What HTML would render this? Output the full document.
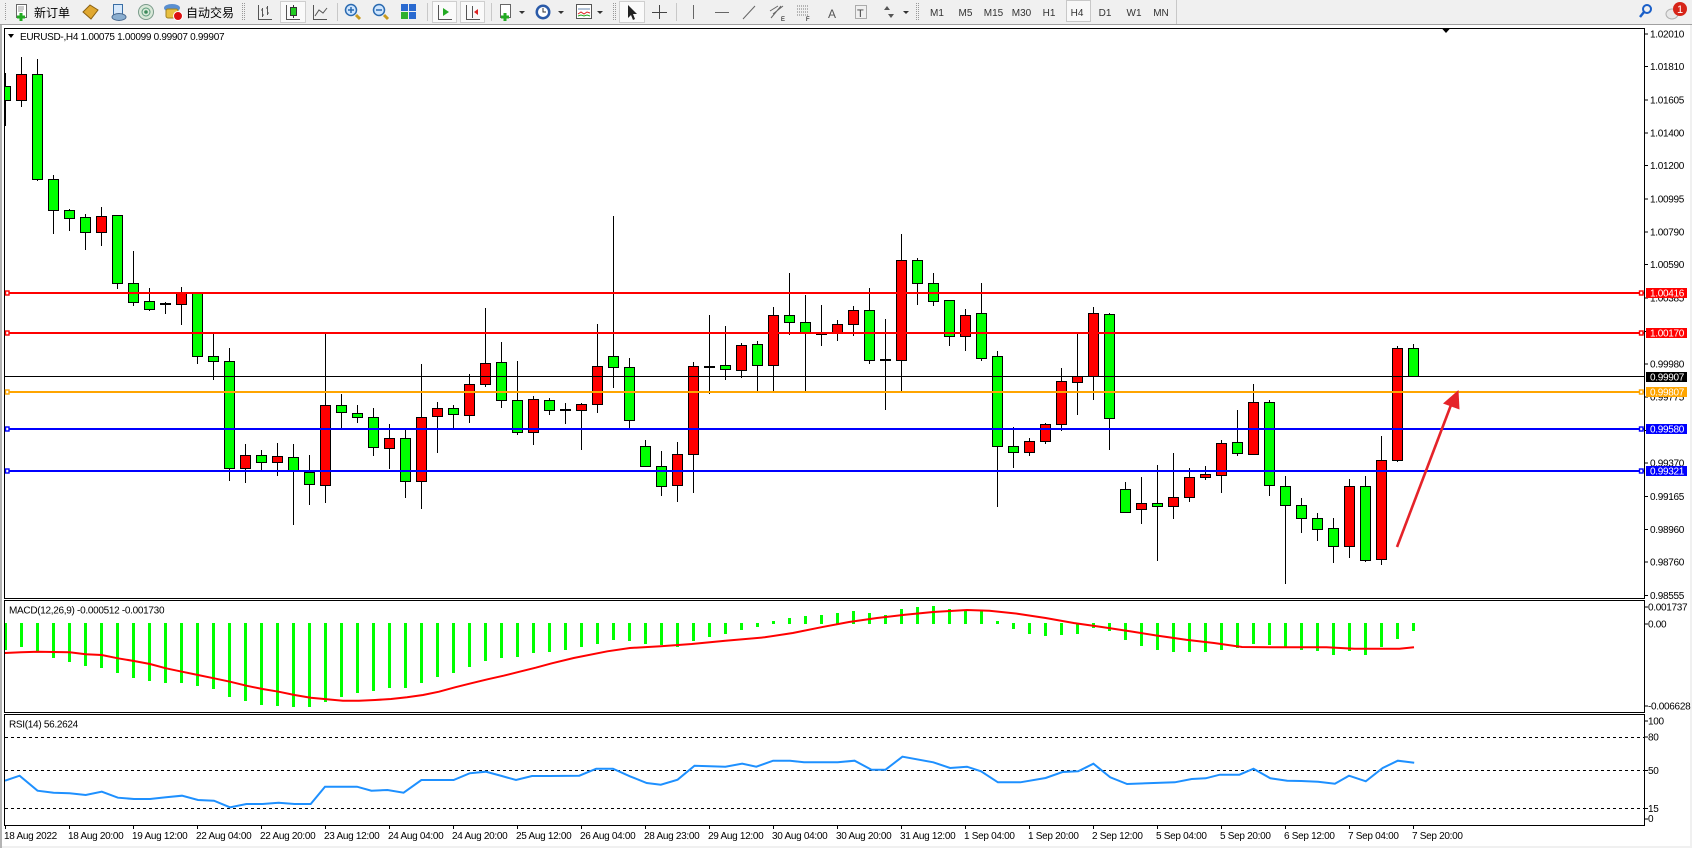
<!DOCTYPE html>
<html><head><meta charset="utf-8">
<style>
html,body{margin:0;padding:0;background:#f0f0f0;}
body{width:1692px;height:848px;overflow:hidden;}
svg{display:block;}
text{font-family:"Liberation Sans","Noto Sans CJK SC",sans-serif;font-size:10px;letter-spacing:-0.3px;fill:#000;}
.cjk{font-size:12px;letter-spacing:0;}
.tf{font-size:10px;fill:#333;letter-spacing:0;}
.wl{fill:#fff;}
.g{fill:#00ff00;stroke:#000;stroke-width:1;}
.r{fill:#ff0000;stroke:#000;stroke-width:1;}
</style></head>
<body>
<svg width="1692" height="848" viewBox="0 0 1692 848" xmlns="http://www.w3.org/2000/svg">
<defs>
<clipPath id="cm"><rect x="5" y="29" width="1639" height="569"/></clipPath>
<clipPath id="cd"><rect x="5" y="601" width="1639" height="111"/></clipPath>
<clipPath id="cr"><rect x="5" y="715" width="1639" height="110"/></clipPath>
</defs>
<!-- background -->
<rect x="0" y="0" width="1692" height="848" fill="#f0f0f0"/>
<line x1="0" y1="24.5" x2="1692" y2="24.5" stroke="#a0a0a0"/>
<rect x="2" y="25" width="1688" height="821" fill="#fff"/>
<rect x="0" y="25" width="2" height="823" fill="#b4b4b4"/>

<!-- ===== TOOLBAR ===== -->
<g>
<line x1="5.5" y1="3" x2="5.5" y2="21" stroke="#999" stroke-dasharray="1,1"/>
<rect x="16.5" y="4.5" width="10" height="13" fill="#fff" stroke="#666"/>
<path d="M18 7h6M18 9h6M18 11h5" stroke="#999"/>
<path d="M21 13v8M17 17h8" stroke="#22aa22" stroke-width="3"/>
<text x="34" y="17" class="cjk">新订单</text>
<polygon points="83,12 90,5 98,10 91,19" fill="#e0a830" stroke="#8a6010"/>
<rect x="113.5" y="4.5" width="9" height="11" fill="#d6e8fb" stroke="#3a6ea5"/>
<ellipse cx="119" cy="17" rx="7" ry="3.5" fill="#8aaed0" stroke="#4a6a90"/>
<circle cx="146" cy="12" r="7.5" fill="#d8e8d8" stroke="#7a9a8a"/>
<circle cx="146" cy="12" r="4" fill="none" stroke="#5a9a7a"/>
<circle cx="146" cy="12" r="1.8" fill="#3a8a5a"/>
<ellipse cx="172" cy="8" rx="8" ry="4" fill="#5a8fd0"/>
<rect x="166" y="9" width="12" height="9" rx="2" fill="#e8c040" stroke="#a08020"/>
<circle cx="178" cy="16" r="4.5" fill="#dd1010" stroke="#fff"/>
<text x="186" y="17" class="cjk">自动交易</text>
<line x1="242.5" y1="3" x2="242.5" y2="21" stroke="#999" stroke-dasharray="1,1"/>
<line x1="244.5" y1="3" x2="244.5" y2="21" stroke="#999" stroke-dasharray="1,1"/>
<path d="M258.5 5V19.5H272M262.5 8v9M261 10h1.5M262.5 15H264M267.5 6v9M266 8h1.5M267.5 13H269" stroke="#555" fill="none"/>
<rect x="280.5" y="1.5" width="25" height="21" fill="#fafafa" stroke="#cfcfcf"/>
<path d="M286.5 5V19.5H300" stroke="#555" fill="none"/>
<line x1="293.5" y1="5" x2="293.5" y2="18" stroke="#333"/>
<rect x="290.5" y="7.5" width="6" height="8" fill="#22cc22" stroke="#333"/>
<path d="M313.5 5V19.5H327M315 16l4-6 4 3 4-5" stroke="#555" fill="none"/>
<line x1="337.5" y1="3" x2="337.5" y2="21" stroke="#c8c8c8"/>
<line x1="356" y1="15" x2="360" y2="19" stroke="#c89a20" stroke-width="3"/>
<circle cx="351" cy="10" r="5.5" fill="#cfe6ff" stroke="#2a6ab0" stroke-width="1.5"/>
<path d="M348 10h6M351 7v6" stroke="#2a6ab0" stroke-width="1.5"/>
<line x1="384" y1="15" x2="388" y2="19" stroke="#c89a20" stroke-width="3"/>
<circle cx="379" cy="10" r="5.5" fill="#cfe6ff" stroke="#2a6ab0" stroke-width="1.5"/>
<path d="M376 10h6" stroke="#2a6ab0" stroke-width="1.5"/>
<rect x="401" y="4" width="7" height="7" fill="#2a6ad0"/><rect x="409" y="4" width="7" height="7" fill="#2a6ad0"/>
<rect x="401" y="12" width="7" height="7" fill="#30b030"/><rect x="409" y="12" width="7" height="7" fill="#2a6ad0"/>
<line x1="427.5" y1="3" x2="427.5" y2="21" stroke="#c8c8c8"/>
<rect x="432.5" y="1.5" width="24" height="21" fill="#fafafa" stroke="#cfcfcf"/>
<path d="M438.5 5V19.5H452" stroke="#555" fill="none"/>
<polygon points="443,8 449,12 443,16" fill="#22aa22"/>
<rect x="460.5" y="1.5" width="24" height="21" fill="#fafafa" stroke="#cfcfcf"/>
<path d="M466.5 5V19.5H480M472.5 6v12" stroke="#555" fill="none"/>
<polygon points="478,9 474,12 478,15" fill="#dd2222"/>
<line x1="491.5" y1="3" x2="491.5" y2="21" stroke="#c8c8c8"/>
<rect x="500.5" y="4.5" width="10" height="13" fill="#fff" stroke="#666"/>
<path d="M505 13v8M501 17h8" stroke="#22aa22" stroke-width="3"/>
<polygon points="519,11 525,11 522,14" fill="#333"/>
<circle cx="543" cy="12" r="7.5" fill="#2a5aa8"/>
<circle cx="543" cy="12" r="5" fill="#fff"/>
<path d="M543 8v4h3" stroke="#333" fill="none"/>
<polygon points="558,11 564,11 561,14" fill="#333"/>
<rect x="576.5" y="4.5" width="15" height="14" fill="#fff" stroke="#555"/>
<path d="M578 9h12" stroke="#6a8ab0"/>
<path d="M578 14l3-2 3 2 3-2 3 1" stroke="#dd2222" fill="none"/>
<path d="M578 16l3-1 3 1 3-1 3 1" stroke="#22aa22" fill="none"/>
<polygon points="597,11 603,11 600,14" fill="#333"/>
<line x1="613.5" y1="3" x2="613.5" y2="21" stroke="#999" stroke-dasharray="1,1"/>
<line x1="615.5" y1="3" x2="615.5" y2="21" stroke="#999" stroke-dasharray="1,1"/>
<rect x="619.5" y="1.5" width="25" height="21" fill="#fafafa" stroke="#cfcfcf"/>
<polygon points="628,5 628,18 631,15 633,20 635,19 633,14 637,14" fill="#222"/>
<path d="M659.5 5v14M652 12.5h15" stroke="#444"/>
<line x1="676.5" y1="3" x2="676.5" y2="21" stroke="#c8c8c8"/>
<line x1="693.5" y1="5" x2="693.5" y2="19" stroke="#666"/>
<line x1="715" y1="12.5" x2="729" y2="12.5" stroke="#666"/>
<line x1="743" y1="19" x2="755" y2="6" stroke="#666"/>
<path d="M771 18l10-12M773 14l10-8M770 11l8-5" stroke="#666" fill="none"/>
<text x="781" y="21" style="font-size:6px;letter-spacing:0">E</text>
<path d="M797 6h12M797 9h12M797 12h12M797 15h12" stroke="#777" stroke-dasharray="1,1"/>
<text x="806" y="21" style="font-size:6px;letter-spacing:0">F</text>
<text x="828" y="18" style="font-size:12px;fill:#555;letter-spacing:0">A</text>
<rect x="855.5" y="5.5" width="11" height="13" fill="none" stroke="#666" stroke-dasharray="1,1"/>
<text x="857" y="17" style="font-size:11px;fill:#444;letter-spacing:0">T</text>
<polygon points="884,10 887,6 890,10" fill="#555"/><polygon points="888,14 891,18 894,14" fill="#555"/>
<polygon points="903,11 909,11 906,14" fill="#333"/>
<line x1="916.5" y1="3" x2="916.5" y2="21" stroke="#999" stroke-dasharray="1,1"/>
<line x1="918.5" y1="3" x2="918.5" y2="21" stroke="#999" stroke-dasharray="1,1"/>
<rect x="1066.5" y="0.5" width="24" height="21" fill="#f8f8f8" stroke="#c8c8c8"/>
<text class="tf" x="937" y="16" text-anchor="middle">M1</text>
<text class="tf" x="965.5" y="16" text-anchor="middle">M5</text>
<text class="tf" x="993.5" y="16" text-anchor="middle">M15</text>
<text class="tf" x="1021.5" y="16" text-anchor="middle">M30</text>
<text class="tf" x="1049" y="16" text-anchor="middle">H1</text>
<text class="tf" x="1077" y="16" text-anchor="middle">H4</text>
<text class="tf" x="1105" y="16" text-anchor="middle">D1</text>
<text class="tf" x="1134" y="16" text-anchor="middle">W1</text>
<text class="tf" x="1161" y="16" text-anchor="middle">MN</text>
<line x1="1176.5" y1="0" x2="1176.5" y2="24" stroke="#c8c8c8"/>
<circle cx="1647" cy="9" r="4" fill="none" stroke="#1a5fc8" stroke-width="2"/>
<line x1="1644" y1="12" x2="1640" y2="17" stroke="#1a5fc8" stroke-width="2.5"/>
<ellipse cx="1672" cy="14" rx="6" ry="5" fill="#e8e8e8" stroke="#b0b0b0"/>
<circle cx="1680" cy="9" r="7" fill="#d62418"/>
<text x="1680" y="13" text-anchor="middle" style="font-size:11px;fill:#fff;letter-spacing:0">1</text>
</g>

<!-- ===== WINDOW FRAMES ===== -->
<g stroke="#000" stroke-width="1" fill="none">
<path d="M4.5 28.5H1644.5V598.5H4.5Z"/>
<path d="M4.5 600.5H1644.5V712.5H4.5Z"/>
<path d="M4.5 714.5H1644.5V825.5H4.5Z"/>
</g>
<polygon points="1441.5,28 1450.5,28 1446,33" fill="#000"/>

<!-- price axis ticks & labels -->
<g stroke="#000">
<path d="M1645 34h3M1645 66.5h3M1645 100h3M1645 133h3M1645 165.5h3M1645 199h3M1645 232h3M1645 264.5h3M1645 298h3M1645 331.5h3M1645 364h3M1645 397h3M1645 430.5h3M1645 463h3M1645 496.5h3M1645 529.5h3M1645 562h3M1645 595.5h3"/>
<path d="M1645 607h3M1645 624h3M1645 706h3M1645 721h3M1645 737h3M1645 770.5h3M1645 808.5h3M1645 819h3"/>
</g>
<g>
<text x="1650" y="37.5">1.02010</text>
<text x="1650" y="70">1.01810</text>
<text x="1650" y="103.5">1.01605</text>
<text x="1650" y="136.5">1.01400</text>
<text x="1650" y="169">1.01200</text>
<text x="1650" y="202.5">1.00995</text>
<text x="1650" y="235.5">1.00790</text>
<text x="1650" y="268">1.00590</text>
<text x="1650" y="301.5">1.00385</text>
<text x="1650" y="335">1.00180</text>
<text x="1650" y="367.5">0.99980</text>
<text x="1650" y="400.5">0.99775</text>
<text x="1650" y="434">0.99570</text>
<text x="1650" y="466.5">0.99370</text>
<text x="1650" y="500">0.99165</text>
<text x="1650" y="533">0.98960</text>
<text x="1650" y="565.5">0.98760</text>
<text x="1650" y="599">0.98555</text>
<text x="1648" y="610.5">0.001737</text>
<text x="1648" y="627.5">0.00</text>
<text x="1648" y="709.5">-0.006628</text>
<text x="1648" y="724.5">100</text>
<text x="1648" y="740.5">80</text>
<text x="1648" y="774">50</text>
<text x="1648" y="812">15</text>
<text x="1648" y="822">0</text>
</g>

<!-- title -->
<polygon points="8,34 14,34 11,38" fill="#000"/>
<text x="20" y="40">EURUSD-,H4  1.00075 1.00099 0.99907 0.99907</text>

<!-- ===== CANDLES ===== -->
<g clip-path="url(#cm)">
<path stroke="#000" stroke-width="1" fill="none" d="M5.5 73V126M21.5 57V107M37.5 59V181M53.5 175V234M69.5 209V231M85.5 214V250M101.5 207V246M117.5 215V289M133.5 251V306M149.5 288V311M165.5 302V314M181.5 287V325M197.5 293V364M213.5 333V380M229.5 348V481M245.5 444V483M261.5 450V470M277.5 443V476M293.5 444V525M309.5 455V505M325.5 334V503M341.5 394V428M357.5 405V423M373.5 408V456M389.5 424V469M405.5 428V498M421.5 364V509M437.5 402V453M453.5 405V428M469.5 374V423M485.5 308V387M501.5 342V408M517.5 361V435M533.5 396V445M549.5 398V415M565.5 403V424M581.5 403V450M597.5 324V413M613.5 216V388M629.5 358V428M645.5 440V467M661.5 451V496M677.5 442V502M693.5 362V493M709.5 315V394M725.5 326V380M741.5 343V378M757.5 341V391M773.5 307V391M789.5 273V335M805.5 295V391M821.5 305V346M837.5 320V341M853.5 306V336M869.5 288V364M885.5 319V410M901.5 234V391M917.5 258V305M933.5 273V306M949.5 300V346M965.5 309V351M981.5 283V361M997.5 351V507M1013.5 427V468M1029.5 438V456M1045.5 423V444M1061.5 368V431M1077.5 333V415M1093.5 307V400M1109.5 313V450M1125.5 482V513M1141.5 477V524M1157.5 465V561M1173.5 453V519M1189.5 468V502M1205.5 466V480M1221.5 440V493M1237.5 410V456M1253.5 384V454M1269.5 400V496M1285.5 476V584M1301.5 498V533M1317.5 513V541M1333.5 518V563M1349.5 479V558M1365.5 476V562M1381.5 436V565M1397.5 346V462M1413.5 344V376"/>
<path stroke="#000" stroke-width="2" fill="none" d="M160 304H171M560 410H571M704 367H715M816 334H827M880 360H891"/>
<g>
<rect class="g" x="0.5" y="86.5" width="10" height="14"/>
<rect class="g" x="32.5" y="74.5" width="10" height="105"/>
<rect class="g" x="48.5" y="179.5" width="10" height="31"/>
<rect class="g" x="64.5" y="210.5" width="10" height="8"/>
<rect class="g" x="80.5" y="217.5" width="10" height="15"/>
<rect class="g" x="112.5" y="215.5" width="10" height="68"/>
<rect class="g" x="128.5" y="283.5" width="10" height="19"/>
<rect class="g" x="144.5" y="301.5" width="10" height="8"/>
<rect class="g" x="192.5" y="293.5" width="10" height="63"/>
<rect class="g" x="208.5" y="356.5" width="10" height="5"/>
<rect class="g" x="224.5" y="361.5" width="10" height="107"/>
<rect class="g" x="256.5" y="455.5" width="10" height="7"/>
<rect class="g" x="288.5" y="457.5" width="10" height="13"/>
<rect class="g" x="304.5" y="472.5" width="10" height="12"/>
<rect class="g" x="336.5" y="405.5" width="10" height="7"/>
<rect class="g" x="352.5" y="413.5" width="10" height="4"/>
<rect class="g" x="368.5" y="417.5" width="10" height="30"/>
<rect class="g" x="400.5" y="438.5" width="10" height="43"/>
<rect class="g" x="448.5" y="408.5" width="10" height="6"/>
<rect class="g" x="496.5" y="362.5" width="10" height="38"/>
<rect class="g" x="512.5" y="400.5" width="10" height="32"/>
<rect class="g" x="544.5" y="400.5" width="10" height="10"/>
<rect class="g" x="608.5" y="356.5" width="10" height="11"/>
<rect class="g" x="624.5" y="367.5" width="10" height="53"/>
<rect class="g" x="640.5" y="446.5" width="10" height="20"/>
<rect class="g" x="656.5" y="466.5" width="10" height="20"/>
<rect class="g" x="720.5" y="365.5" width="10" height="4"/>
<rect class="g" x="752.5" y="344.5" width="10" height="21"/>
<rect class="g" x="784.5" y="315.5" width="10" height="7"/>
<rect class="g" x="800.5" y="322.5" width="10" height="10"/>
<rect class="g" x="864.5" y="310.5" width="10" height="50"/>
<rect class="g" x="912.5" y="260.5" width="10" height="23"/>
<rect class="g" x="928.5" y="283.5" width="10" height="18"/>
<rect class="g" x="944.5" y="300.5" width="10" height="36"/>
<rect class="g" x="976.5" y="313.5" width="10" height="45"/>
<rect class="g" x="992.5" y="356.5" width="10" height="90"/>
<rect class="g" x="1008.5" y="446.5" width="10" height="6"/>
<rect class="g" x="1104.5" y="314.5" width="10" height="104"/>
<rect class="g" x="1120.5" y="489.5" width="10" height="23"/>
<rect class="g" x="1152.5" y="503.5" width="10" height="3"/>
<rect class="g" x="1232.5" y="442.5" width="10" height="11"/>
<rect class="g" x="1264.5" y="402.5" width="10" height="83"/>
<rect class="g" x="1280.5" y="486.5" width="10" height="19"/>
<rect class="g" x="1296.5" y="505.5" width="10" height="13"/>
<rect class="g" x="1312.5" y="518.5" width="10" height="11"/>
<rect class="g" x="1328.5" y="528.5" width="10" height="18"/>
<rect class="g" x="1360.5" y="486.5" width="10" height="74"/>
<rect class="g" x="1408.5" y="348.5" width="10" height="28"/>
<rect class="r" x="16.5" y="74.5" width="10" height="26"/>
<rect class="r" x="96.5" y="216.5" width="10" height="16"/>
<rect class="r" x="176.5" y="293.5" width="10" height="11"/>
<rect class="r" x="240.5" y="455.5" width="10" height="13"/>
<rect class="r" x="272.5" y="456.5" width="10" height="6"/>
<rect class="r" x="320.5" y="405.5" width="10" height="80"/>
<rect class="r" x="384.5" y="438.5" width="10" height="10"/>
<rect class="r" x="416.5" y="417.5" width="10" height="64"/>
<rect class="r" x="432.5" y="408.5" width="10" height="8"/>
<rect class="r" x="464.5" y="384.5" width="10" height="31"/>
<rect class="r" x="480.5" y="363.5" width="10" height="21"/>
<rect class="r" x="528.5" y="399.5" width="10" height="33"/>
<rect class="r" x="576.5" y="404.5" width="10" height="6"/>
<rect class="r" x="592.5" y="366.5" width="10" height="38"/>
<rect class="r" x="672.5" y="454.5" width="10" height="31"/>
<rect class="r" x="688.5" y="366.5" width="10" height="88"/>
<rect class="r" x="736.5" y="345.5" width="10" height="25"/>
<rect class="r" x="768.5" y="315.5" width="10" height="50"/>
<rect class="r" x="832.5" y="324.5" width="10" height="8"/>
<rect class="r" x="848.5" y="310.5" width="10" height="14"/>
<rect class="r" x="896.5" y="260.5" width="10" height="100"/>
<rect class="r" x="960.5" y="315.5" width="10" height="21"/>
<rect class="r" x="1024.5" y="441.5" width="10" height="11"/>
<rect class="r" x="1040.5" y="424.5" width="10" height="17"/>
<rect class="r" x="1056.5" y="381.5" width="10" height="43"/>
<rect class="r" x="1072.5" y="376.5" width="10" height="6"/>
<rect class="r" x="1088.5" y="313.5" width="10" height="63"/>
<rect class="r" x="1136.5" y="503.5" width="10" height="6"/>
<rect class="r" x="1168.5" y="497.5" width="10" height="9"/>
<rect class="r" x="1184.5" y="477.5" width="10" height="20"/>
<rect class="r" x="1200.5" y="474.5" width="10" height="3"/>
<rect class="r" x="1216.5" y="443.5" width="10" height="32"/>
<rect class="r" x="1248.5" y="402.5" width="10" height="52"/>
<rect class="r" x="1344.5" y="486.5" width="10" height="60"/>
<rect class="r" x="1376.5" y="460.5" width="10" height="99"/>
<rect class="r" x="1392.5" y="348.5" width="10" height="112"/>
</g>
</g>

<!-- ===== HORIZONTAL LINES ===== -->
<g>
<line x1="5" y1="293" x2="1644" y2="293" stroke="#ff0000" stroke-width="2"/>
<line x1="5" y1="333" x2="1644" y2="333" stroke="#ff0000" stroke-width="2"/>
<line x1="5" y1="376.5" x2="1644" y2="376.5" stroke="#000" stroke-width="1"/>
<line x1="5" y1="392" x2="1644" y2="392" stroke="#ffa500" stroke-width="2"/>
<line x1="5" y1="429" x2="1644" y2="429" stroke="#0000ff" stroke-width="2"/>
<line x1="5" y1="471" x2="1644" y2="471" stroke="#0000ff" stroke-width="2"/>
<g fill="#fff" stroke-width="1.4">
<rect x="5.5" y="291" width="3.5" height="4" stroke="#ff0000"/>
<rect x="1639.5" y="291" width="3.5" height="4" stroke="#ff0000"/>
<rect x="5.5" y="331" width="3.5" height="4" stroke="#ff0000"/>
<rect x="1639.5" y="331" width="3.5" height="4" stroke="#ff0000"/>
<rect x="5.5" y="390" width="3.5" height="4" stroke="#ffa500"/>
<rect x="1639.5" y="390" width="3.5" height="4" stroke="#ffa500"/>
<rect x="5.5" y="427" width="3.5" height="4" stroke="#0000ff"/>
<rect x="1639.5" y="427" width="3.5" height="4" stroke="#0000ff"/>
<rect x="5.5" y="469" width="3.5" height="4" stroke="#0000ff"/>
<rect x="1639.5" y="469" width="3.5" height="4" stroke="#0000ff"/>
</g>
<rect x="1646" y="288" width="41" height="10" fill="#ff0000"/>
<text class="wl" x="1650" y="296.5">1.00416</text>
<rect x="1646" y="328" width="41" height="10" fill="#ff0000"/>
<text class="wl" x="1650" y="336.5">1.00170</text>
<rect x="1646" y="372" width="41" height="10" fill="#000"/>
<text class="wl" x="1650" y="380.5">0.99907</text>
<rect x="1646" y="387" width="41" height="10" fill="#ffa500"/>
<text class="wl" x="1650" y="395.5">0.99807</text>
<rect x="1646" y="424" width="41" height="10" fill="#0000ff"/>
<text class="wl" x="1650" y="432.5">0.99580</text>
<rect x="1646" y="466" width="41" height="10" fill="#0000ff"/>
<text class="wl" x="1650" y="474.5">0.99321</text>
</g>

<!-- arrow -->
<line x1="1397" y1="547" x2="1451" y2="405" stroke="#e52329" stroke-width="2.6"/>
<polygon points="1458.5,390 1443,403.5 1459.5,409.5" fill="#e52329"/>

<!-- ===== MACD ===== -->
<text x="9" y="613.5">MACD(12,26,9) -0.000512 -0.001730</text>
<g clip-path="url(#cd)">
<path stroke="#00ff00" stroke-width="3" fill="none" d="M5.5 623V650M21.5 623V647M37.5 623V652M53.5 623V658M69.5 623V662M85.5 623V666M101.5 623V668M117.5 623V673M133.5 623V678M149.5 623V681M165.5 623V683M181.5 623V683M197.5 623V686M213.5 623V689M229.5 623V697M245.5 623V701M261.5 623V705M277.5 623V706M293.5 623V707M309.5 623V707M325.5 623V702M341.5 623V697M357.5 623V693M373.5 623V691M389.5 623V688M405.5 623V688M421.5 623V683M437.5 623V677M453.5 623V673M469.5 623V667M485.5 623V661M501.5 623V658M517.5 623V657M533.5 623V653M549.5 623V652M565.5 623V650M581.5 623V647M597.5 623V644M613.5 623V640M629.5 623V641M645.5 623V644M661.5 623V645M677.5 623V647M693.5 623V641M709.5 623V637M725.5 623V634M741.5 623V630M757.5 623V627M773.5 621V624M789.5 618V624M805.5 616V624M821.5 615V624M837.5 613V624M853.5 611V624M869.5 613V624M885.5 615V624M901.5 609V624M917.5 607V624M933.5 606V624M949.5 609V624M965.5 610V624M981.5 611V624M997.5 621V624M1013.5 623V629M1029.5 623V634M1045.5 623V636M1061.5 623V635M1077.5 623V634M1093.5 623V628M1109.5 623V631M1125.5 623V640M1141.5 623V646M1157.5 623V650M1173.5 623V652M1189.5 623V652M1205.5 623V652M1221.5 623V650M1237.5 623V648M1253.5 623V644M1269.5 623V645M1285.5 623V648M1301.5 623V650M1317.5 623V651M1333.5 623V655M1349.5 623V651M1365.5 623V655M1381.5 623V647M1397.5 623V639M1413.5 623V631"/>
<polyline fill="none" stroke="#ff0000" stroke-width="2" points="5,653 21,652.3 37.5,651.7 69.6,652.3 85.7,654.3 101.8,655 117.9,658.3 134,661 150,664 166,668.3 182,671.7 198,675 214,678.3 230,681.7 246.4,685.7 262.5,689 278.6,691.7 294.6,695 310.7,697.7 326.8,699.3 342.9,700.7 359,700.7 375,700 391,699 407,697.3 423,695 439,691.7 455,687.3 471,683.3 487.5,679.3 503.6,675.7 519.6,671.7 535.7,667.7 551.8,663.3 573.7,658 607.4,651.3 629.9,648 660.8,646.3 691.7,644 725.4,640.7 764.7,637.3 792.8,633 820.9,627.3 849,622 877,618 905,614.7 933,612 967,610 989.4,610.7 1017.5,613.7 1045.6,618 1073.7,623 1101.8,627 1129.9,631.3 1158,635.7 1186,639.7 1214,643 1242,647 1270,647.3 1326.5,647.3 1354.6,648.7 1399.5,648.7 1414,647.3"/>
</g>

<!-- ===== RSI ===== -->
<text x="9" y="727.5">RSI(14) 56.2624</text>
<g stroke="#000" stroke-width="1" stroke-dasharray="3,3">
<line x1="5" y1="737.5" x2="1644" y2="737.5"/>
<line x1="5" y1="770.5" x2="1644" y2="770.5"/>
<line x1="5" y1="808.5" x2="1644" y2="808.5"/>
</g>
<g clip-path="url(#cr)">
<polyline fill="none" stroke="#1e90ff" stroke-width="2" points="5,780.7 19.6,775.7 37.5,790.7 53.6,792.7 69.6,793.3 85.7,795 101.8,791.7 117.9,797.7 134,799 150,799 166,797.3 182,795.7 198,800 214,800.7 230,807.3 246.4,804 262.5,804 278.6,802.7 294.6,804 310.7,804 325,786.7 341,786.7 357,786.7 371.4,790.7 387.5,790 403.6,792.7 421.4,780 437.5,780 453.6,780 469.6,773.3 485.7,771.7 501.8,776 516,780 532,776 550,776 579.3,775.7 596.2,768.7 613,768.7 629.9,776.3 646.7,783 660.8,784.7 677.6,779.7 694.5,765.7 725.4,766.7 742.2,763.7 756.3,766.7 773.1,760.7 790,760.7 804,762.3 837.8,762.3 854.6,760.7 871.5,769.7 885.5,769.7 902.4,756.7 933.3,762.3 950.1,768 967,766.7 981,771.3 997.9,782.3 1020.3,782.3 1045.6,778 1062.5,772 1078.2,771.3 1093.4,763.7 1110.2,777.3 1127.1,784 1174.8,782.3 1191.7,779 1205.7,778.3 1219.8,774.7 1239.4,774.7 1253.5,768.7 1270.3,778.3 1287.2,780.7 1301.2,781 1318.1,781.7 1334.9,783.7 1349,775.7 1365.8,781.3 1382.7,768 1397.8,760.7 1414.2,762.7"/>
</g>

<!-- ===== TIME AXIS ===== -->
<path stroke="#000" d="M5.5 826v3M69.5 826v3M133.5 826v3M197.5 826v3M261.5 826v3M325.5 826v3M389.5 826v3M453.5 826v3M517.5 826v3M581.5 826v3M645.5 826v3M709.5 826v3M773.5 826v3M837.5 826v3M901.5 826v3M965.5 826v3M1029.5 826v3M1093.5 826v3M1157.5 826v3M1221.5 826v3M1285.5 826v3M1349.5 826v3M1413.5 826v3"/>
<g>
<text x="4" y="839">18 Aug 2022</text>
<text x="68" y="839">18 Aug 20:00</text>
<text x="132" y="839">19 Aug 12:00</text>
<text x="196" y="839">22 Aug 04:00</text>
<text x="260" y="839">22 Aug 20:00</text>
<text x="324" y="839">23 Aug 12:00</text>
<text x="388" y="839">24 Aug 04:00</text>
<text x="452" y="839">24 Aug 20:00</text>
<text x="516" y="839">25 Aug 12:00</text>
<text x="580" y="839">26 Aug 04:00</text>
<text x="644" y="839">28 Aug 23:00</text>
<text x="708" y="839">29 Aug 12:00</text>
<text x="772" y="839">30 Aug 04:00</text>
<text x="836" y="839">30 Aug 20:00</text>
<text x="900" y="839">31 Aug 12:00</text>
<text x="964" y="839">1 Sep 04:00</text>
<text x="1028" y="839">1 Sep 20:00</text>
<text x="1092" y="839">2 Sep 12:00</text>
<text x="1156" y="839">5 Sep 04:00</text>
<text x="1220" y="839">5 Sep 20:00</text>
<text x="1284" y="839">6 Sep 12:00</text>
<text x="1348" y="839">7 Sep 04:00</text>
<text x="1412" y="839">7 Sep 20:00</text>
</g>
</svg>
</body></html>
